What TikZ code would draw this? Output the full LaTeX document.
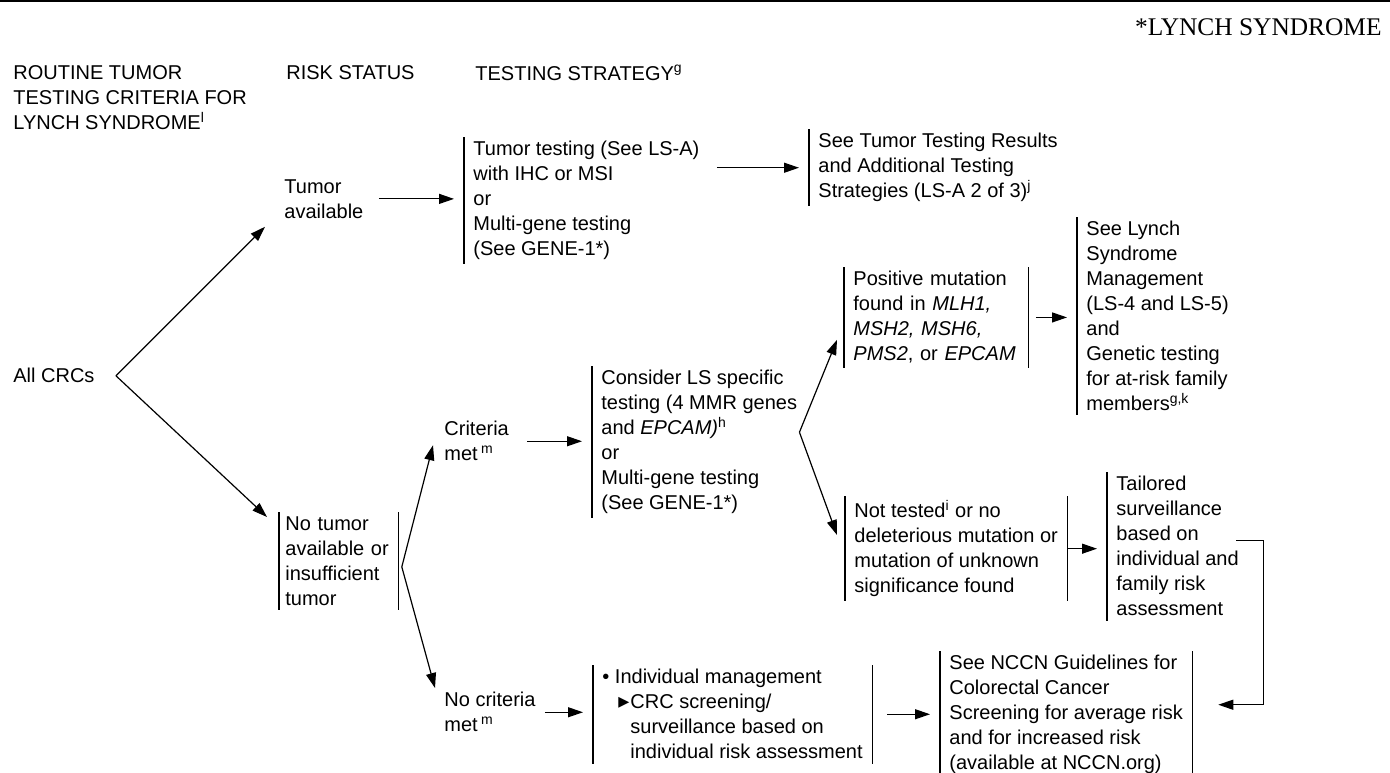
\documentclass[tikz,border=0pt]{standalone}
\usepackage{fontspec}
\setmainfont{Liberation Sans}
\newfontfamily\titlefont{Liberation Serif}
\newfontfamily\trifont{DejaVu Sans}
\usetikzlibrary{arrows.meta}

\begin{document}
\begin{tikzpicture}[x=0.5pt, y=-0.5pt,
  txt/.style={anchor=north west, align=left, inner xsep=4.5pt, inner ysep=2pt,
    font=\fontsize{10}{12.5}\selectfont},
  vbar/.style={draw, line width=0.6pt},
  lbox/.style={txt, append after command={(\tikzlastnode.north west) edge[vbar] (\tikzlastnode.south west)}},
  bbox/.style={lbox, append after command={(\tikzlastnode.north east) edge[vbar] (\tikzlastnode.south east)}},
  arr/.style={-{Triangle[length=7.5pt, width=5pt]}, line width=0.6pt, shorten >=5pt}]
\useasboundingbox (0,0) rectangle (1390,772);
\draw[line width=1pt] (0,1) -- (1390,1);
\node[txt, font=\titlefont\fontsize{12.7}{14}\selectfont, anchor=base east, inner sep=0pt] (title) at (1382,35) {*LYNCH SYNDROME};

\node[txt] (hcrit) at (4,61) {ROUTINE TUMOR\\TESTING CRITERIA FOR\\LYNCH SYNDROME\textsuperscript{l}};
\node[txt] (hrisk) at (277,61) {RISK STATUS};
\node[txt] (hstrat) at (466,61) {TESTING STRATEGY\textsuperscript{g}};

\node[txt] (crc) at (4,364) {All CRCs};
\node[txt] (avail) at (275,175) {Tumor\\available};
\node[bbox, inner xsep=3pt, text width=53.5pt] (notum) at (279,512) {No tumor\\available or\\insufficient\\tumor};
\node[lbox] (tumtest) at (464,137) {Tumor testing (See LS-A)\\with IHC or MSI\\or\\Multi-gene testing\\(See GENE-1*)};
\node[lbox] (results) at (809,129) {See Tumor Testing Results\\and Additional Testing\\Strategies (LS-A 2 of 3)\textsuperscript{j}};
\node[txt] (crit) at (435,417) {Criteria\\met\,\textsuperscript{m}};
\node[txt] (nocrit) at (435,688) {No criteria\\met\,\textsuperscript{m}};
\node[lbox] (lstest) at (592,366) {Consider LS specific\\testing (4 MMR genes\\and \textit{EPCAM)}\textsuperscript{h}\\or\\Multi-gene testing\\(See GENE-1*)};
\node[bbox, text width=83pt] (posmut) at (844,267) {Positive mutation\\found in \textit{MLH1,}\\\textit{MSH2, MSH6,}\\\textit{PMS2}, or \textit{EPCAM}};
\node[lbox] (lynchmgmt) at (1077,217) {See Lynch\\Syndrome\\Management\\(LS-4 and LS-5)\\and\\Genetic testing\\for at-risk family\\members\textsuperscript{g,k}};
\node[bbox] (nomut) at (845,496) {Not tested\textsuperscript{i} or no\\deleterious mutation or\\mutation of unknown\\significance found};
\node[lbox] (tailored) at (1107,472) {Tailored\\surveillance\\based on\\individual and\\family risk\\assessment};
\node[bbox] (indiv) at (593,665) {\textbullet\ Individual management\\\hspace*{8pt}\makebox[6pt][l]{\trifont\fontsize{11}{11}\selectfont ▸}CRC screening/\\\hspace*{14pt}surveillance based on\\\hspace*{14pt}individual risk assessment};
\node[bbox] (nccn) at (940,651) {See NCCN Guidelines for\\Colorectal Cancer\\Screening for average risk\\and for increased risk\\(available at NCCN.org)};

\coordinate (fork1) at ([xshift=6pt]crc.east);
\draw[arr, shorten >=0pt] (fork1) -- ([xshift=-5pt,yshift=-2pt]avail.south west);
\draw[arr, shorten >=0pt] (fork1) -- ([xshift=-6pt,yshift=-2.5pt]notum.north west);
\coordinate (fork2) at ([xshift=1.5pt,yshift=-3pt]notum.east);
\draw[arr, shorten >=0pt] (fork2) -- ([xshift=-1pt,yshift=-2pt]crit.west);
\draw[arr, shorten >=0pt] (fork2) -- (nocrit.north west);
\coordinate (fork3) at ([xshift=-3.5pt,yshift=5pt]lstest.east);
\draw[arr, shorten >=0pt] (fork3) -- ([xshift=-3.5pt,yshift=14pt]posmut.south west);
\draw[arr, shorten >=0pt] (fork3) -- ([xshift=-4pt,yshift=-19.5pt]nomut.north west);

\draw[arr, shorten <=3pt] (avail.east) -- (avail.east -| tumtest.west);
\draw[arr, shorten <=4pt] (tumtest.east |- results.west) -- (results.west);
\draw[arr, shorten <=4.5pt] (crit.east) -- (crit.east -| lstest.west);
\draw[arr, shorten <=3.5pt] (posmut.east) -- (posmut.east -| lynchmgmt.west);
\draw[arr, shorten <=0.5pt] (nomut.east) -- (nomut.east -| tailored.west);
\draw[arr] (nocrit.east) -- (nocrit.east -| indiv.west);
\draw[arr, shorten <=7.5pt] (indiv.east) -- (indiv.east -| nccn.west);
\draw[arr, shorten >=0pt] ([xshift=-6pt,yshift=3pt]tailored.east) -- ++(13.5pt,0) |- ([xshift=13pt,yshift=5pt]nccn.east);
\end{tikzpicture}
\end{document}
